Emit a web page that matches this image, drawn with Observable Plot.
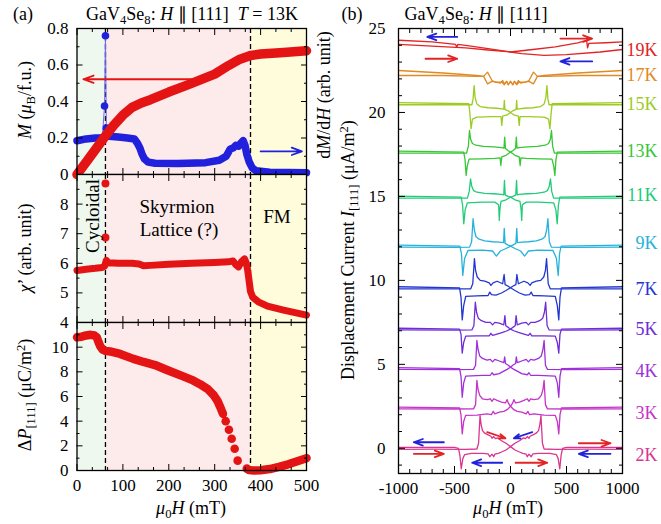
<!DOCTYPE html>
<html><head><meta charset="utf-8">
<script src="https://cdn.jsdelivr.net/npm/d3@7"></script>
<script src="https://cdn.jsdelivr.net/npm/@observablehq/plot@0.6"></script>
<style>
body{margin:0;background:#fff;}
#fig{position:relative;width:661px;height:524px;font-family:"Liberation Serif","Times New Roman",serif;color:#000;overflow:hidden;background:#fff}
#fig svg{position:absolute;left:0;top:0;overflow:visible;font-family:"Liberation Serif","Times New Roman",serif !important;font-size:17px}
#fig svg text{font-family:"Liberation Serif","Times New Roman",serif !important}
.t{position:absolute;white-space:nowrap;font-size:17px;line-height:1}
sub{font-size:70%;vertical-align:-0.3em;line-height:0}
sup{font-size:70%;vertical-align:0.5em;line-height:0}
</style></head><body><div id="fig"></div>
<script>
// ---------------- Panel (a) data ----------------
const phaseH = [62, 378];
const regions = [
  {x1: 0, x2: 62, fill: "#eff8ef"},
  {x1: 62, x2: 378, fill: "#fdeaea"},
  {x1: 378, x2: 500, fill: "#fefcda"}
];
// Magnetization M (muB/f.u.)
const magM = [[0,0],[20,0.068],[40,0.136],[60,0.205],[80,0.27],[100,0.325],[120,0.368],[140,0.392],[160,0.41],[200,0.452],[240,0.49],[270,0.52],[300,0.55],[330,0.597],[355,0.632],[378,0.652],[400,0.66],[450,0.668],[500,0.678]];
// dM/dH (arb.)
const dmdhLow = [[0,0.185],[20,0.195],[40,0.2],[55,0.2]];
const dmdhSpike = [[55,0.2],[60,0.375],[62,0.76],[64,0.255],[70,0.21]];
const dmdhHigh = [[70,0.21],[90,0.205],[110,0.2],[125,0.195],[132,0.17],[137,0.145],[142,0.11],[147,0.085],[155,0.068],[170,0.062],[220,0.06],[280,0.065],[310,0.078],[325,0.1],[334,0.14],[340,0.145],[346,0.16],[352,0.155],[358,0.175],[362,0.185],[366,0.16],[370,0.11],[375,0.07],[382,0.035],[390,0.02],[420,0.012],[500,0.01]];
// chi'
const chiMain = [[0,5.76],[20,5.8],[40,5.83],[55,5.86],[60,5.9],[64,6.1],[68,6.02],[90,6.0],[120,6.0],[135,5.98],[145,5.92],[160,5.93],[200,5.97],[250,6.0],[300,6.03],[330,6.05],[340,6.08],[346,5.95],[352,5.88],[358,6.05],[365,6.15],[369,6.0],[372,5.75],[375,5.4],[378,5.05],[383,4.85],[395,4.7],[415,4.55],[450,4.42],[500,4.25]];
const chiSpike = [[62,8.7],[62,6.87]];
// Delta P [111]
const dPdense1 = [[0,10.8],[10,10.85],[20,10.95],[30,11.0],[38,10.95],[43,10.8],[47,10.4],[51,10.05],[56,9.8],[62,9.7],[72,9.65],[94,9.45],[123,9.05],[145,8.8],[170,8.55],[196,8.15],[230,7.65],[250,7.35],[268,7.0],[285,6.6],[298,6.1],[306,5.65],[312,5.15],[318,4.6]];
const dPsparse = [[324,4.0],[331,3.3],[337,2.57],[343.5,1.76],[350,0.8],[370,0.15]];
const dPdense2 = [[375,0.03],[385,0.0],[400,0.02],[420,0.12],[440,0.3],[460,0.5],[480,0.75],[500,1.0]];
const arrowsA = [
  {x1: 250, y1: 0.522, x2: 14, y2: 0.522, c: "#e41414"},
  {x1: 400, y1: 0.127, x2: 490, y2: 0.127, c: "#2020dd"}
];
const xTicksA = [0,100,200,300,400,500];
const xMinorA = [33.33,66.67,133.33,166.67,233.33,266.67,333.33,366.67,433.33,466.67];

// ---------------- Panel (b) data ----------------
const temps = ["2K","3K","4K","5K","7K","9K","11K","13K","15K","17K","19K"];
const tempColors = ["#d8368f","#c634c8","#a030d8","#6f2cd8","#2436d0","#26b2dc","#20cc78","#36c636","#9ccc22","#e08a26","#e22424"];
const labelY = [-0.43, 2.07, 4.6, 7.1, 9.5, 12.2, 15.05, 17.7, 20.5, 22.2, 23.7];
// up-sweep branches [H (mT), I (uA/m^2) incl. offset]
const up2K = [[-1000,-0.06],[-700,-0.05],[-400,-0.06],[-300,-0.04],[-285,0.3],[-272,1.95],[-262,1.4],[-250,1.05],[-230,0.9],[-200,0.8],[-175,0.72],[-165,0.6],[-150,0.7],[-135,0.58],[-115,0.62],[-80,0.45],[-40,0.3],[0,0.1],[40,-0.1],[80,-0.22],[110,-0.3],[140,-0.35],[150,-0.5],[165,-0.35],[185,-0.5],[200,-0.33],[250,-0.3],[350,-0.3],[410,-0.38],[425,-0.6],[440,-1.22],[452,-0.4],[465,0.0],[500,0.05],[1000,0.06]];
const up3K = [[-1000,2.35],[-500,2.34],[-330,2.35],[-312,2.6],[-300,4.05],[-290,3.5],[-275,3.15],[-250,2.95],[-210,2.9],[-180,2.95],[-165,2.8],[-150,2.95],[-120,2.85],[-80,2.75],[-45,2.7],[-30,2.9],[-20,2.7],[0,2.5],[30,2.3],[60,2.2],[100,2.15],[140,2.05],[155,2.2],[170,2.0],[210,2.05],[300,1.98],[400,1.96],[418,1.6],[431,0.86],[442,2.0],[455,2.4],[1000,2.45]];
const up4K = [[-1000,4.7],[-500,4.69],[-330,4.7],[-312,4.95],[-300,6.42],[-290,5.9],[-275,5.5],[-250,5.35],[-210,5.25],[-180,5.3],[-160,5.15],[-140,5.3],[-100,5.2],[-60,5.1],[-52,5.45],[-45,5.05],[-20,4.95],[0,4.83],[30,4.7],[60,4.6],[100,4.45],[150,4.38],[165,4.5],[180,4.35],[250,4.34],[400,4.3],[418,3.9],[431,3.04],[442,4.3],[455,4.75],[1000,4.8]];
const up5K = [[-1000,7.05],[-500,7.04],[-345,7.05],[-327,7.3],[-314,8.7],[-303,8.1],[-288,7.75],[-260,7.6],[-220,7.5],[-180,7.5],[-160,7.35],[-140,7.5],[-100,7.45],[-60,7.35],[-50,7.9],[-42,7.3],[-20,7.2],[0,7.1],[30,7.0],[70,6.9],[120,6.8],[160,6.72],[175,6.85],[190,6.7],[300,6.7],[400,6.68],[418,6.3],[431,5.67],[442,6.8],[455,7.1],[1000,7.15]];
const up7K = [[-1000,9.5],[-500,9.5],[-355,9.5],[-337,9.8],[-322,11.3],[-312,10.6],[-297,10.2],[-270,10.0],[-230,9.95],[-190,9.85],[-175,9.7],[-155,9.85],[-120,9.95],[-70,9.8],[-57,10.35],[-48,9.75],[-20,9.65],[0,9.56],[40,9.4],[80,9.25],[130,9.12],[170,9.15],[185,9.3],[200,9.1],[300,9.08],[400,9.05],[418,8.5],[431,7.65],[442,9.0],[455,9.55],[1000,9.62]];
const up9K = [[-1000,11.98],[-500,11.97],[-365,11.98],[-347,12.3],[-334,13.67],[-323,13.0],[-308,12.6],[-280,12.45],[-230,12.35],[-160,12.3],[-100,12.28],[-62,12.25],[-56,13.1],[-48,12.2],[-20,12.1],[0,12.04],[40,11.9],[90,11.75],[126,11.45],[160,11.75],[250,11.8],[380,11.78],[410,11.3],[426,10.29],[438,11.6],[452,12.04],[1000,12.1]];
const up11K = [[-1000,14.9],[-500,14.9],[-385,14.9],[-368,15.3],[-357,16.05],[-346,15.6],[-330,15.35],[-300,15.25],[-230,15.18],[-150,15.16],[-80,15.12],[-60,15.1],[-54,15.95],[-47,15.08],[-20,15.0],[0,14.96],[40,14.8],[85,14.7],[95,14.2],[100,13.57],[106,14.5],[140,14.66],[250,14.66],[385,14.62],[405,14.2],[417,13.37],[428,14.5],[440,14.96],[1000,15.02]];
const up13K = [[-1000,17.58],[-500,17.58],[-392,17.58],[-376,18.0],[-366,18.93],[-356,18.4],[-340,18.15],[-310,18.05],[-240,17.98],[-150,17.95],[-80,17.9],[-58,17.88],[-52,18.53],[-45,17.85],[-20,17.72],[0,17.64],[40,17.45],[78,17.35],[86,16.84],[93,17.3],[140,17.26],[250,17.24],[370,17.22],[386,16.8],[396,16.25],[406,17.2],[418,17.64],[1000,17.7]];
const up15K = [[-1000,20.46],[-500,20.46],[-345,20.46],[-334,20.8],[-325,21.6],[-316,20.9],[-300,20.5],[-270,20.35],[-200,20.28],[-120,20.25],[-60,20.2],[-55,20.72],[-50,20.18],[-20,20.1],[0,20.0],[30,19.85],[70,19.78],[78,19.23],[85,19.75],[150,19.75],[300,19.72],[340,19.6],[352,19.03],[362,19.9],[372,20.52],[1000,20.58]];
const up17K = [[-1000,22.2],[-600,22.2],[-300,22.15],[-240,22.15],[-205,21.7],[-165,21.85],[-130,21.8],[-90,21.75],[-70,21.9],[-55,21.7],[-35,21.85],[-20,21.65],[0,21.85],[20,21.65],[35,21.85],[55,21.65],[75,21.8],[130,21.8],[165,21.9],[205,22.4],[240,22.15],[300,22.2],[600,22.35],[1000,22.5]];
const up19K = [[-1000,24.05],[-700,23.95],[-400,23.85],[-200,23.72],[0,23.6],[200,23.75],[400,23.9],[600,24.15],[680,24.3],[688,23.85],[700,24.12],[850,24.15],[1000,24.2]];
const down19K = [[1000,23.75],[800,23.6],[500,23.45],[300,23.4],[100,23.5],[0,23.6],[-200,23.8],[-400,24.0],[-470,24.05],[-480,23.88],[-490,24.05],[-700,24.2],[-1000,24.3]];
const upSweeps = [up2K, up3K, up4K, up5K, up7K, up9K, up11K, up13K, up15K, up17K, up19K];
const downSweeps = {"19K": down19K};
const arrowsB = [
  {x1:-476, y1:24.5, x2:-743, y2:24.5, c:"#2222dd"},
  {x1:-759, y1:23.2, x2:-476, y2:23.2, c:"#e22424"},
  {x1:446, y1:24.4, x2:729, y2:24.4, c:"#e22424"},
  {x1:729, y1:23.04, x2:446, y2:23.04, c:"#2222dd"},
  {x1:-595, y1:0.36, x2:-863, y2:0.36, c:"#2222dd"},
  {x1:-863, y1:-0.33, x2:-595, y2:-0.33, c:"#e22424"},
  {x1:-208, y1:0.96, x2:-45, y2:0.6, c:"#e22424"},
  {x1:194, y1:0.96, x2:30, y2:0.6, c:"#2222dd"},
  {x1:-74, y1:-0.86, x2:-342, y2:-0.86, c:"#2222dd"},
  {x1:45, y1:-0.86, x2:328, y2:-0.86, c:"#e22424"},
  {x1:610, y1:0.3, x2:893, y2:0.3, c:"#e22424"},
  {x1:893, y1:-0.33, x2:610, y2:-0.33, c:"#2222dd"}
];
const xTicksB = [-1000,-500,0,500,1000];
const yTicksB = [0,5,10,15,20,25];

// ---------------- build ----------------
const W = 661, Hh = 524;
const fig = document.getElementById("fig");
const style = 'background:transparent;font-family:"Liberation Serif","Times New Roman",serif;font-size:17px;color:#000;overflow:visible';
const px = d => d[0], py = d => d[1];
const red = "#e41414", blue = "#2020dd";

function frameOpts(l, r, t, b) {
  return {width: W, height: Hh, marginLeft: l, marginRight: W - r, marginTop: t, marginBottom: Hh - b, style, color: {type: "identity"}};
}
function range(a, b, s) { const o = []; for (let v = a; v <= b + 1e-9; v += s) o.push(+v.toFixed(6)); return o; }
const blank = () => "";

function xAxesA(withLabels) {
  return [
    Plot.axisX(xTicksA, {anchor: "bottom", tickSize: -6, tickPadding: 14, label: null, tickFormat: withLabels ? (d => String(d)) : blank}),
    Plot.axisX(xMinorA, {anchor: "bottom", tickSize: -3, label: null, tickFormat: blank}),
    Plot.axisX(xTicksA, {anchor: "top", tickSize: -6, label: null, tickFormat: blank}),
    Plot.axisX(xMinorA, {anchor: "top", tickSize: -3, label: null, tickFormat: blank})
  ];
}
function yAxesA(major, minor, fmt) {
  return [
    Plot.axisY(major, {anchor: "left", tickSize: -6, tickPadding: 14.5, label: null, tickFormat: fmt}),
    Plot.axisY(minor, {anchor: "left", tickSize: -3, label: null, tickFormat: blank}),
    Plot.axisY(major, {anchor: "right", tickSize: -6, label: null, tickFormat: blank}),
    Plot.axisY(minor, {anchor: "right", tickSize: -3, label: null, tickFormat: blank})
  ];
}
const L = 76.5, R = 306;
const bg = [
  Plot.rect(regions, {x1: "x1", x2: "x2", fill: "fill"}),
  Plot.ruleX(phaseH, {stroke: "#000", strokeWidth: 1.3, strokeDasharray: "5,3"})
];
const thick = (data, c, w) => Plot.line(data, {x: px, y: py, stroke: c, strokeWidth: w, strokeLinecap: "round", strokeLinejoin: "round"});

// top (a)
fig.append(Plot.plot({
  ...frameOpts(L, R, 28, 174),
  x: {domain: [0, 500], label: null}, y: {domain: [0, 0.8], label: null},
  marks: [
    ...bg,
    Plot.line(dmdhSpike, {x: px, y: py, stroke: "#6a6af0", strokeWidth: 1}),
    thick(dmdhLow, blue, 7.5), thick(dmdhHigh, blue, 7.5),
    Plot.dot(dmdhSpike, {x: px, y: py, r: 3.8, fill: blue}),
    thick(magM, red, 9.5),
    Plot.arrow(arrowsA, {x1: "x1", y1: "y1", x2: "x2", y2: "y2", stroke: "c", strokeWidth: 1.8, headLength: 9, headAngle: 40}),
    ...xAxesA(false),
    ...yAxesA([0,0.2,0.4,0.6,0.8], [0.1,0.3,0.5,0.7], d => d === 0 ? "0" : d.toFixed(1)),
    Plot.frame({stroke: "#000", strokeWidth: 1.3})
  ]
}));
// middle (a)
fig.append(Plot.plot({
  ...frameOpts(L, R, 174, 322),
  x: {domain: [0, 500], label: null}, y: {domain: [4, 9], label: null},
  marks: [
    ...bg,
    thick(chiMain, red, 7),
    Plot.dot(chiSpike, {x: px, y: py, r: 4, fill: red}),
    ...xAxesA(false),
    ...yAxesA([4,5,6,7,8,9], [4.5,5.5,6.5,7.5,8.5], d => d === 9 ? "" : String(d)),
    Plot.frame({stroke: "#000", strokeWidth: 1.3})
  ]
}));
// bottom (a)
fig.append(Plot.plot({
  ...frameOpts(L, R, 322, 470),
  x: {domain: [0, 500], label: null}, y: {domain: [0, 12], label: null},
  marks: [
    ...bg,
    thick(dPdense1, red, 8.5), thick(dPdense2, red, 8.5),
    Plot.dot(dPsparse, {x: px, y: py, r: 4.3, fill: red}),
    ...xAxesA(true),
    ...yAxesA([0,2,4,6,8,10,12], [1,3,5,7,9,11], d => d === 12 ? "" : String(d)),
    Plot.frame({stroke: "#000", strokeWidth: 1.3})
  ]
}));

// panel (b)
const rowsB = [];
temps.forEach((t, k) => {
  const up = upSweeps[k];
  const down = downSweeps[t] || up.map(([h, i]) => [-h, i]).reverse();
  up.forEach(([h, i]) => rowsB.push({H: h, I: i, key: t + "u", c: tempColors[k]}));
  down.forEach(([h, i]) => rowsB.push({H: h, I: i, key: t + "d", c: tempColors[k]}));
});
const tempLabels = temps.map((t, k) => ({t, y: labelY[k], c: tempColors[k]}));
const yMinorB = range(-1, 25, 1).filter(v => v % 5 !== 0);
const xMinorB = range(-900, 900, 100).filter(v => v % 500 !== 0);
fig.append(Plot.plot({
  ...frameOpts(398, 622, 28, 473),
  x: {domain: [-1000, 1000], label: null}, y: {domain: [-1.5, 25], label: null},
  marks: [
    Plot.line(rowsB, {x: "H", y: "I", z: "key", stroke: "c", strokeWidth: 1.3, strokeLinejoin: "round"}),
    Plot.arrow(arrowsB, {x1: "x1", y1: "y1", x2: "x2", y2: "y2", stroke: "c", strokeWidth: 1.8, headLength: 8, headAngle: 40}),
    Plot.text(tempLabels, {frameAnchor: "right", y: "y", text: "t", fill: "c", dx: 35, textAnchor: "end", fontSize: 18}),
    Plot.axisX(xTicksB, {anchor: "bottom", tickSize: -7, tickPadding: 15, label: null, tickFormat: d => String(d)}),
    Plot.axisX(xMinorB, {anchor: "bottom", tickSize: -4, label: null, tickFormat: blank}),
    Plot.axisX(xTicksB, {anchor: "top", tickSize: -7, label: null, tickFormat: blank}),
    Plot.axisX(xMinorB, {anchor: "top", tickSize: -4, label: null, tickFormat: blank}),
    Plot.axisY(yTicksB, {anchor: "left", tickSize: -7, tickPadding: 20, label: null, tickFormat: d => String(d)}),
    Plot.axisY(yMinorB, {anchor: "left", tickSize: -4, label: null, tickFormat: blank}),
    Plot.axisY(yTicksB, {anchor: "right", tickSize: -7, label: null, tickFormat: blank}),
    Plot.axisY(yMinorB, {anchor: "right", tickSize: -4, label: null, tickFormat: blank}),
    Plot.frame({stroke: "#000", strokeWidth: 1.3})
  ]
}));

// ---------------- text ----------------
function txt(html, x, y, rot, size) {
  const d = document.createElement("div");
  d.className = "t";
  d.innerHTML = html;
  d.style.left = x + "px"; d.style.top = y + "px";
  if (size) d.style.fontSize = size + "px";
  d.style.transform = "translate(-50%,-50%)" + (rot ? " rotate(-90deg)" : "");
  fig.append(d);
}
txt("(a)", 23, 14, false, 18);
txt("(b)", 352, 14, false, 18);
txt("GaV<sub>4</sub>Se<sub>8</sub>: <i>H</i> ∥ [111]&nbsp;&nbsp;<i>T</i> = 13K", 192, 14, false, 18);
txt("GaV<sub>4</sub>Se<sub>8</sub>: <i>H</i> ∥ [111]", 476, 14, false, 18);
txt("<i>M</i> (<i>μ</i><sub>B</sub>/f.u.)", 25, 100, true, 18);
txt("<i>χ</i>’ (arb. unit)", 25, 248, true, 18);
txt("Δ<i>P</i><sub>[111]</sub> (μC/m<sup>2</sup>)", 25, 395, true, 18);
txt("d<i>M</i>/d<i>H</i> (arb. unit)", 324, 95, true, 18);
txt("Displacement Current <i>I</i><sub>[111]</sub> (μA/m<sup>2</sup>)", 348, 250, true, 18);
txt("<i>μ</i><sub>0</sub><i>H</i> (mT)", 191, 508, false, 18);
txt("<i>μ</i><sub>0</sub><i>H</i> (mT)", 508, 508, false, 18);
txt("Cycloidal", 92, 216, true, 19);
txt("Skyrmion", 177, 206, false, 19);
txt("Lattice (?)", 179, 229, false, 19);
txt("FM", 277, 216, false, 19);
</script></body></html>
